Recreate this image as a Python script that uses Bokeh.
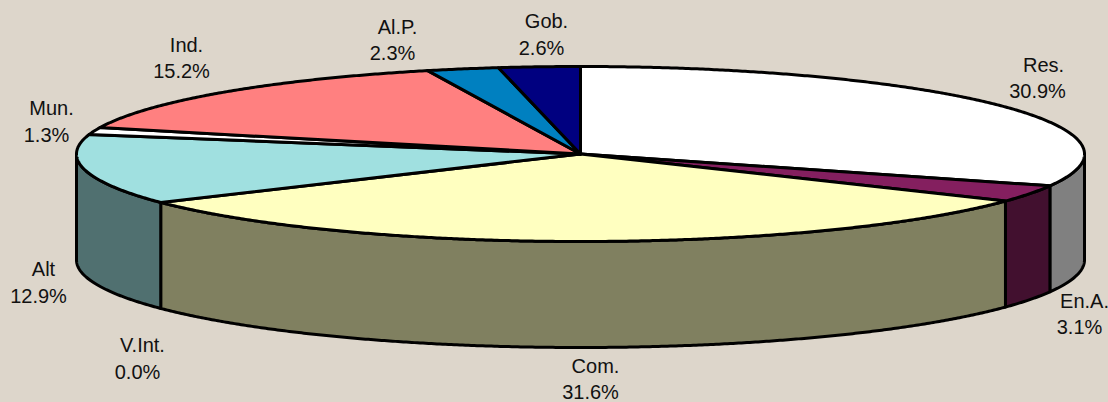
import numpy as np
from bokeh.embed import file_html
from bokeh.models import Range1d
from bokeh.plotting import figure
from bokeh.resources import INLINE
from bokeh.core.properties import value

categories = ["Res.", "En.A.", "Com.", "V.Int.", "Alt", "Mun.", "Ind.", "Al.P.", "Gob."]
shares = [30.9, 3.1, 31.6, 0.0, 12.9, 1.3, 15.2, 2.3, 2.6]
top_colors = ["#FFFFFF", "#841F5F", "#FFFFC0", "#FFFFFF", "#A0E0E0", "#FFFFFF", "#FF8080", "#0080C0", "#000080"]
side_colors = ["#808080", "#42102F", "#808060", "#808080", "#507070", "#808080", "#804040", "#004060", "#000040"]

BG = "#DDD6CB"
CX, CY, RX, RY, DEPTH = 580, 153.5, 504, 87.5, 106
# name x, name y, percent x, percent y
LABEL_POS = {
    "Res.": (1043, 64, 1037, 90), "En.A.": (1084, 300, 1079, 326), "Com.": (595, 365, 590, 391),
    "V.Int.": (142, 344, 137, 371), "Alt": (43, 268, 38, 295), "Mun.": (51, 107, 46, 134),
    "Ind.": (186, 44, 181, 70), "Al.P.": (397, 26, 392, 52), "Gob.": (546, 20, 541, 47),
}

def arc(a0, a1):
    t = np.radians(np.linspace(a0, a1, max(2, int(abs(a1 - a0) * 3))))
    return CX + RX * np.sin(t), CY - RY * np.cos(t)

p = figure(width=1108, height=402, output_backend="svg", toolbar_location=None,
           x_range=Range1d(0, 1108), y_range=Range1d(402, 0),
           min_border=0, outline_line_color=None, background_fill_color=BG,
           border_fill_color=BG)
p.axis.visible = False
p.grid.visible = False

edges = np.cumsum([0] + shares) / sum(shares) * 360

# side wall of the front half
for i, cat in enumerate(categories):
    a0, a1 = max(edges[i], 90), min(edges[i + 1], 270)
    if a1 <= a0:
        continue
    x, y = arc(a0, a1)
    p.patch(np.r_[x, x[::-1]], np.r_[y, y[::-1] + DEPTH], fill_color=side_colors[i],
            line_color="black", line_width=3, line_join="round")

# top face
for i, cat in enumerate(categories):
    if shares[i] == 0:
        continue
    x, y = arc(edges[i], edges[i + 1])
    p.patch(np.r_[CX, x], np.r_[CY, y], fill_color=top_colors[i],
            line_color="black", line_width=3, line_join="round")

# labels
for cat, share in zip(categories, shares):
    nx, ny, sx, sy = LABEL_POS[cat]
    for txt, lx, ly in ((cat, nx, ny), (f"{share:.1f}%", sx, sy)):
        p.text([lx], [ly], text=[txt], text_align="center", text_baseline="middle",
               text_font=value("Liberation Sans"), text_font_size="20px", text_color="#111111")

html = file_html(p, INLINE)
html = html.replace("</head>", f"<style>html,body{{margin:0;padding:0;background:{BG};overflow:hidden}}</style></head>", 1)
open("out.html", "w").write(html)
